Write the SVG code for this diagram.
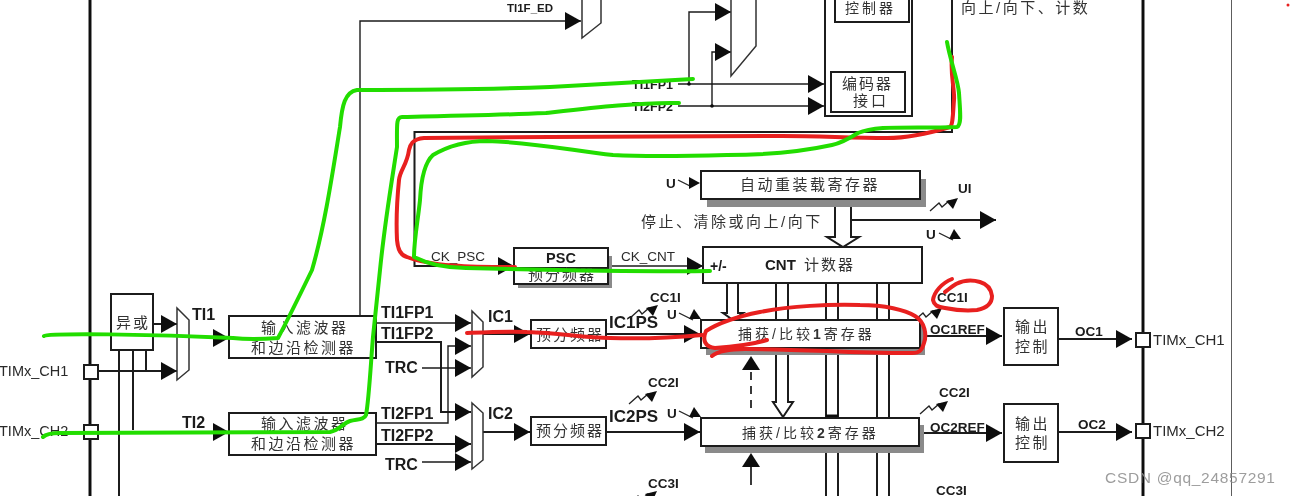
<svg xmlns="http://www.w3.org/2000/svg" xmlns:xlink="http://www.w3.org/1999/xlink" width="1290" height="496" viewBox="0 0 1290 496">
<style>
.b{fill:#fff;stroke:#1a1a1a;stroke-width:2}
.s{fill:#8a8a8a;stroke:none}
.w{fill:none;stroke:#1a1a1a;stroke-width:2}
.t{fill:none;stroke:#1a1a1a;stroke-width:1.4}
.a{marker-end:url(#a)}
.m{fill:#fff;stroke:#333;stroke-width:1.5}
.h{fill:#fff;stroke:#1a1a1a;stroke-width:2}
.l{font-family:"Liberation Sans",Arial,sans-serif;font-weight:700;fill:#1a1a1a;font-size:16px}
.n{font-family:"Liberation Sans",Arial,sans-serif;fill:#2a2a2a;font-size:14px}
.c{font-family:"Liberation Sans","Noto Sans CJK SC",sans-serif;fill:#333;font-size:15px;letter-spacing:2.5px}
.x{font-size:13.5px}
.g{fill:none;stroke:#22dd00;stroke-width:4;stroke-linecap:round;stroke-linejoin:round}
.r{fill:none;stroke:#e8201f;stroke-width:4;stroke-linecap:round;stroke-linejoin:round}
</style>
<defs>
<marker id="a" markerUnits="userSpaceOnUse" markerWidth="16" markerHeight="18" refX="16" refY="9" orient="auto"><path d="M0,0L16,9L0,18z" fill="#111"/></marker>
<g id="bolt"><path d="M-28,13L-19,5L-16,9L-9,3L-6,6" fill="none" stroke="#222" stroke-width="1.3"/><path d="M0,0L-5,11L-12,3z" fill="#111"/></g>
<g id="ua"><path d="M-22,-7L-8,0" fill="none" stroke="#222" stroke-width="1.3"/><path d="M-7,-11L0,-1L-12,-1z" fill="#111"/></g>
<filter id="f" x="0" y="0" width="100%" height="100%"><feGaussianBlur stdDeviation="0.45"/></filter>
</defs>
<rect width="1290" height="496" fill="#fff"/>
<g filter="url(#f)">
<g id="connectors">
<path d="M90,0V496M1143,0V496" fill="none" stroke="#111" stroke-width="3"/>
<path d="M1232,0V496" fill="none" stroke="#333" stroke-width="1.6"/>
<path class="t a" d="M360,316V21H581"/>
<path class="t a" d="M689,84V12H731"/>
<path class="t a" d="M712,106V52H731"/>
<path class="t a" d="M678,84H824"/>
<path class="t a" d="M678,106H824"/>
<circle cx="689" cy="84" r="1.8" fill="#111"/><circle cx="712" cy="106" r="1.8" fill="#111"/>
<path class="w" d="M952,0V132H414.500V266H498"/>
<path class="w a" d="M498,266H514"/>
<path class="t a" d="M608,266H703"/>
<path class="w a" d="M851,220H996"/>
<path class="w" d="M119,350V496M133,350V430M146,350V372"/>
<path class="w a" d="M98,371H177"/>
<path class="w a" d="M153,324H177"/>
<path class="w a" d="M211,338H229"/>
<path class="w a" d="M211,432H229"/>
<path class="t a" d="M376,323H471"/>
<path class="w a" d="M376,342H441V412H471"/>
<path class="t a" d="M376,423H448V346H471"/>
<path class="w a" d="M376,444H471"/>
<path class="t a" d="M422,368H471"/>
<path class="t a" d="M422,462H471"/>
<path class="w a" d="M483,334H530"/>
<path class="w a" d="M483,432H530"/>
<path class="w a" d="M606,334H700"/>
<path class="w a" d="M606,432H700"/>
<path class="w a" d="M920,336H1002"/>
<path class="w a" d="M920,433H1002"/>
<path class="w a" d="M1058,339H1132"/>
<path class="w a" d="M1058,432H1132"/>
<path class="h" d="M727,283V313H723L733,320L743,313H738V283z"/>
<path class="h" d="M776,283V402H773L783,417L793,402H788V283z"/>
<path class="w" d="M826,283V496M838,283V496M877,283V496M889,283V496"/>
<path d="M826,416H838" fill="none" stroke="#111" stroke-width="3"/>
<path class="h" d="M835,199V237H827L843,247L859,237H851V199z"/>
<path d="M751,356L760,370H742z" fill="#111"/>
<path d="M751,372V412" fill="none" stroke="#222" stroke-width="1.8" stroke-dasharray="8 6"/>
<path d="M751,453L760,467H742z" fill="#111"/>
<path d="M751,467V485" fill="none" stroke="#222" stroke-width="1.8"/>
<use xlink:href="#bolt" href="#bolt" x="658" y="305"/>
<use xlink:href="#bolt" href="#bolt" x="657" y="391"/>
<use xlink:href="#bolt" href="#bolt" x="657" y="491"/>
<use xlink:href="#bolt" href="#bolt" x="958" y="198"/>
<use xlink:href="#bolt" href="#bolt" x="942" y="308"/>
<use xlink:href="#bolt" href="#bolt" x="948" y="401"/>
<path d="M678,180L690,186" fill="none" stroke="#222" stroke-width="1.3"/><path d="M700,183L689,177V189z" fill="#111"/>
<use xlink:href="#ua" href="#ua" x="961" y="240"/>
<use xlink:href="#ua" href="#ua" x="701" y="320"/>
<use xlink:href="#ua" href="#ua" x="701" y="418"/>
</g>
<g id="mux-top-a"><path class="m" d="M582,-2H601V23L582,38z"/></g>
<g id="mux-top-b"><path class="m" d="M731,-2H756V46L731,76z"/></g>
<g id="mux-ti"><path class="m" d="M177,308L189,320V370L177,380z"/></g>
<g id="mux-ic1"><path class="m" d="M472,311L483,322V367L472,377z"/></g>
<g id="mux-ic2"><path class="m" d="M472,403L483,413V460L472,469z"/></g>
<g id="slave-controller"><rect class="b" x="825" y="-4" width="87" height="120"/><rect class="b" x="835" y="-4" width="74" height="26"/><text class="c" x="845" y="13" style="font-size:14px;letter-spacing:3px">控制器</text></g>
<g id="encoder"><rect class="b" x="831" y="72" width="74" height="40"/><text class="c" x="842" y="89" style="letter-spacing:2px">编码器</text><text class="c" x="853" y="106" style="letter-spacing:3px">接口</text></g>
<g id="arr"><rect class="s" x="707" y="179" width="219" height="28"/><rect class="b" x="701" y="171" width="219" height="28"/><text class="c" x="740" y="190">自动重装载寄存器</text></g>
<g id="cnt"><rect class="b" x="703" y="247" width="219" height="36"/><text class="l" x="710" y="271" style="font-size:14px">+/-</text><text class="l" x="765" y="270" style="font-size:15px">CNT</text><text class="c" x="804" y="270" style="letter-spacing:2px">计数器</text></g>
<g id="psc"><rect class="s" x="518" y="256" width="94" height="32"/><rect class="b" x="514" y="248" width="94" height="36"/><path class="w" d="M514,268H608"/><text class="l" x="561" y="263" text-anchor="middle" style="font-size:14.500px">PSC</text><text class="c" x="528" y="280" style="letter-spacing:2px">预分频器</text></g>
<g id="xor"><rect class="b" x="111" y="294" width="42" height="56"/><text class="c" x="116" y="328" style="letter-spacing:2px">异或</text></g>
<g id="filter1"><rect class="b" x="229" y="316" width="147" height="42"/><text class="c" x="261" y="333">输入滤波器</text><text class="c" x="251" y="353">和边沿检测器</text></g>
<g id="filter2"><rect class="b" x="229" y="413" width="147" height="42"/><text class="c" x="261" y="429">输入滤波器</text><text class="c" x="251" y="449">和边沿检测器</text></g>
<g id="prescaler1"><rect class="b" x="531" y="320" width="75" height="28"/><text class="c" x="536" y="340" style="letter-spacing:2px">预分频器</text></g>
<g id="prescaler2"><rect class="b" x="531" y="417" width="75" height="28"/><text class="c" x="536" y="436" style="letter-spacing:2px">预分频器</text></g>
<g id="ccr1"><rect class="s" x="706" y="326" width="219" height="29"/><rect class="b" x="701" y="320" width="219" height="28"/><text class="c" x="738" y="339" style="font-size:14px;letter-spacing:3px">捕获/比较<tspan font-weight="700">1</tspan>寄存器</text></g>
<g id="ccr2"><rect class="s" x="705" y="425" width="219" height="28"/><rect class="b" x="701" y="418" width="218" height="28"/><text class="c" x="742" y="438" style="font-size:14px;letter-spacing:3px">捕获/比较<tspan font-weight="700">2</tspan>寄存器</text></g>
<g id="output1"><rect class="b" x="1004" y="308" width="54" height="57"/><text class="c" x="1015" y="332">输出</text><text class="c" x="1015" y="352">控制</text></g>
<g id="output2"><rect class="b" x="1004" y="404" width="54" height="58"/><text class="c" x="1015" y="429">输出</text><text class="c" x="1015" y="448">控制</text></g>
<g id="pin-left-1"><rect class="b" x="84" y="365" width="14" height="14"/><text class="n" x="-1" y="376" style="font-size:14.500px">TIMx_CH1</text></g>
<g id="pin-left-2"><rect class="b" x="84" y="425" width="14" height="14"/><text class="n" x="-1" y="436" style="font-size:14.500px">TIMx_CH2</text></g>
<g id="pin-right-1"><rect class="b" x="1136" y="333" width="14" height="14"/><text class="n" x="1153" y="345" style="font-size:15px">TIMx_CH1</text></g>
<g id="pin-right-2"><rect class="b" x="1136" y="424" width="14" height="14"/><text class="n" x="1153" y="436" style="font-size:15px">TIMx_CH2</text></g>
<g id="labels">
<text class="l" x="507" y="12" style="font-size:11.500px">TI1F_ED</text>
<text class="l" x="632" y="89" style="font-size:12.500px">TI1FP1</text>
<text class="l" x="632" y="111" style="font-size:12.500px">TI2FP2</text>
<text class="c" x="961" y="13">向上/向下、计数</text>
<text class="c" x="641" y="227">停止、清除或向上/向下</text>
<text class="l x" x="666" y="188">U</text>
<text class="l x" x="958" y="193">UI</text>
<text class="l x" x="926" y="239">U</text>
<text class="n" x="431" y="261" style="font-size:13.500px">CK_PSC</text>
<text class="n" x="621" y="261" style="font-size:13.500px">CK_CNT</text>
<text class="l" x="192" y="320">TI1</text>
<text class="l" x="182" y="428">TI2</text>
<text class="l" x="381" y="318">TI1FP1</text>
<text class="l" x="381" y="339">TI1FP2</text>
<text class="l" x="385" y="373">TRC</text>
<text class="l" x="381" y="419">TI2FP1</text>
<text class="l" x="381" y="441">TI2FP2</text>
<text class="l" x="385" y="470">TRC</text>
<text class="l" x="488" y="322">IC1</text>
<text class="l" x="488" y="419">IC2</text>
<text class="l" x="609" y="328" style="font-size:17px">IC1PS</text>
<text class="l" x="609" y="422" style="font-size:17px">IC2PS</text>
<text class="l x" x="650" y="302">CC1I</text>
<text class="l x" x="648" y="387">CC2I</text>
<text class="l x" x="648" y="488">CC3I</text>
<text class="l x" x="667" y="319">U</text>
<text class="l x" x="667" y="418">U</text>
<text class="l x" x="930" y="334">OC1REF</text>
<text class="l x" x="930" y="432">OC2REF</text>
<text class="l x" x="937" y="302">CC1I</text>
<text class="l x" x="939" y="397">CC2I</text>
<text class="l x" x="936" y="495">CC3I</text>
<text class="l x" x="1075" y="336">OC1</text>
<text class="l x" x="1078" y="429">OC2</text>
</g>
</g>
<g id="annotations">
<path class="g" d="M44,336C48,333 150,334 233,338C250,340 265,339 278,338C285,325 295,305 312,270C325,225 333,170 340,127C342,105 345,92 357,90C420,90 500,89 550,87C600,84 650,81 693,79"/>
<path class="g" d="M43,437C46,434 52,433 60,433L330,432C340,430 343,423 350,421C358,419 364,420 366,415C369,400 371,360 373,337L380,270C385,220 392,180 397,147C397,125 396,117 402,117C450,116 500,115 546,113C590,108 640,102 679,103"/>
<path class="r" d="M952,57C950,75 955,90 954,100C953,112 953,125 950,127C930,133 910,138 887,138C850,138 820,136 782,136L550,137L424,138C412,139 410,145 409,150C407,165 400,170 399,180C397,200 396,220 397,240C398,252 402,256 407,257C430,266 470,267 515,267"/>
<path class="g" d="M947,42C950,60 958,80 959,93C960,110 962,125 957,127C930,128 905,127 883,128C870,129 865,130 858,133C850,138 842,143 832,145C800,152 770,155 727,155C690,156 650,157 613,155C570,150 530,142 487,141C470,141 450,145 433,155C424,163 421,180 420,200C418,220 414,240 414,257C430,265 450,268 466,268C550,270 640,272 710,271"/>
<path class="r" d="M467,333C490,332 510,331 527,332C560,333 585,338 610,338C640,339 670,338 702,335"/>
<path class="r" d="M767,340C750,345 730,347 715,348C705,347 702,340 706,331C720,322 740,316 760,312C790,306 830,304 860,305C885,305 905,310 915,316C925,322 927,335 924,343C922,350 920,353 912,353C880,353 850,352 827,351C800,350 770,349 745,349C730,349 718,351 712,356"/>
<path class="r" d="M952,279C942,283 934,292 933,300C934,305 937,307 945,308C955,310 968,311 977,310C987,308 992,303 992,296C991,288 987,284 980,282C970,279 962,281 956,284C951,287 948,290 945,292"/>
<circle cx="1288" cy="5" r="1.500" fill="#e8201f"/>
</g>
<text x="1105" y="483" style="font-family:'Liberation Sans',Arial,sans-serif;font-size:15.500px;fill:#8c8c8c;letter-spacing:.7px" opacity="0.85">CSDN @qq_24857291</text>
</svg>
